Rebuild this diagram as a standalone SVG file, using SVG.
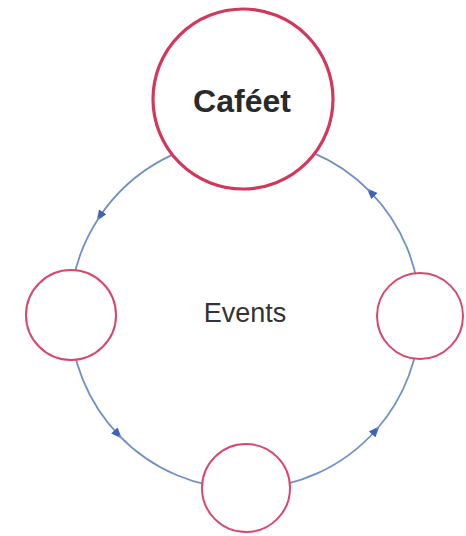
<svg xmlns="http://www.w3.org/2000/svg" width="466" height="536" viewBox="0 0 466 536">
  <style>
    .edge { fill: none; stroke: #6f90c8; stroke-width: 1.8; }
    .node { fill: #ffffff; stroke: #d9476a; stroke-width: 2; }
    .main { fill: #ffffff; stroke: #d3385c; stroke-width: 3.2; }
    .title { font-family: "Liberation Sans", Arial, sans-serif; font-weight: bold; font-size: 32px; fill: #2a2a2a; }
    .label { font-family: "Liberation Sans", Arial, sans-serif; font-size: 27px; fill: #333333; }
  </style>
  <defs>
    <marker id="arrow" viewBox="0 0 10 10" refX="6" refY="5" markerWidth="11" markerHeight="11" markerUnits="userSpaceOnUse" orient="auto">
      <path d="M0,1 L10,5 L0,9 z" fill="#3f63b5"/>
    </marker>
  </defs>
  <rect width="466" height="536" fill="#ffffff"/>
  <g id="connectors">
    <path class="edge" d="M245,139 A175,175 0 0 0 99.1,217.4" marker-end="url(#arrow)"/>
    <path class="edge" d="M99.1,217.4 A175,175 0 0 0 70,314"/>
    <path class="edge" d="M70,314 A175,175 0 0 0 118.9,435.3" marker-end="url(#arrow)"/>
    <path class="edge" d="M118.9,435.3 A175,175 0 0 0 245,489"/>
    <path class="edge" d="M245,489 A175,175 0 0 0 376.5,429.5" marker-end="url(#arrow)"/>
    <path class="edge" d="M376.5,429.5 A175,175 0 0 0 420,314"/>
    <path class="edge" d="M420,314 A175,175 0 0 0 369.8,191.3" marker-end="url(#arrow)"/>
    <path class="edge" d="M369.8,191.3 A175,175 0 0 0 245,139"/>
  </g>
  <text class="label" x="245" y="322" text-anchor="middle">Events</text>
  <g id="cafeet">
    <circle class="main" cx="243" cy="99" r="90"/>
    <text class="title" x="242" y="112" text-anchor="middle">Caféet</text>
  </g>
  <g id="node-left">
    <circle class="node" cx="71" cy="315" r="45"/>
  </g>
  <g id="node-right">
    <circle class="node" cx="420" cy="316" r="43"/>
  </g>
  <g id="node-bottom">
    <circle class="node" cx="246" cy="488" r="44"/>
  </g>
</svg>
